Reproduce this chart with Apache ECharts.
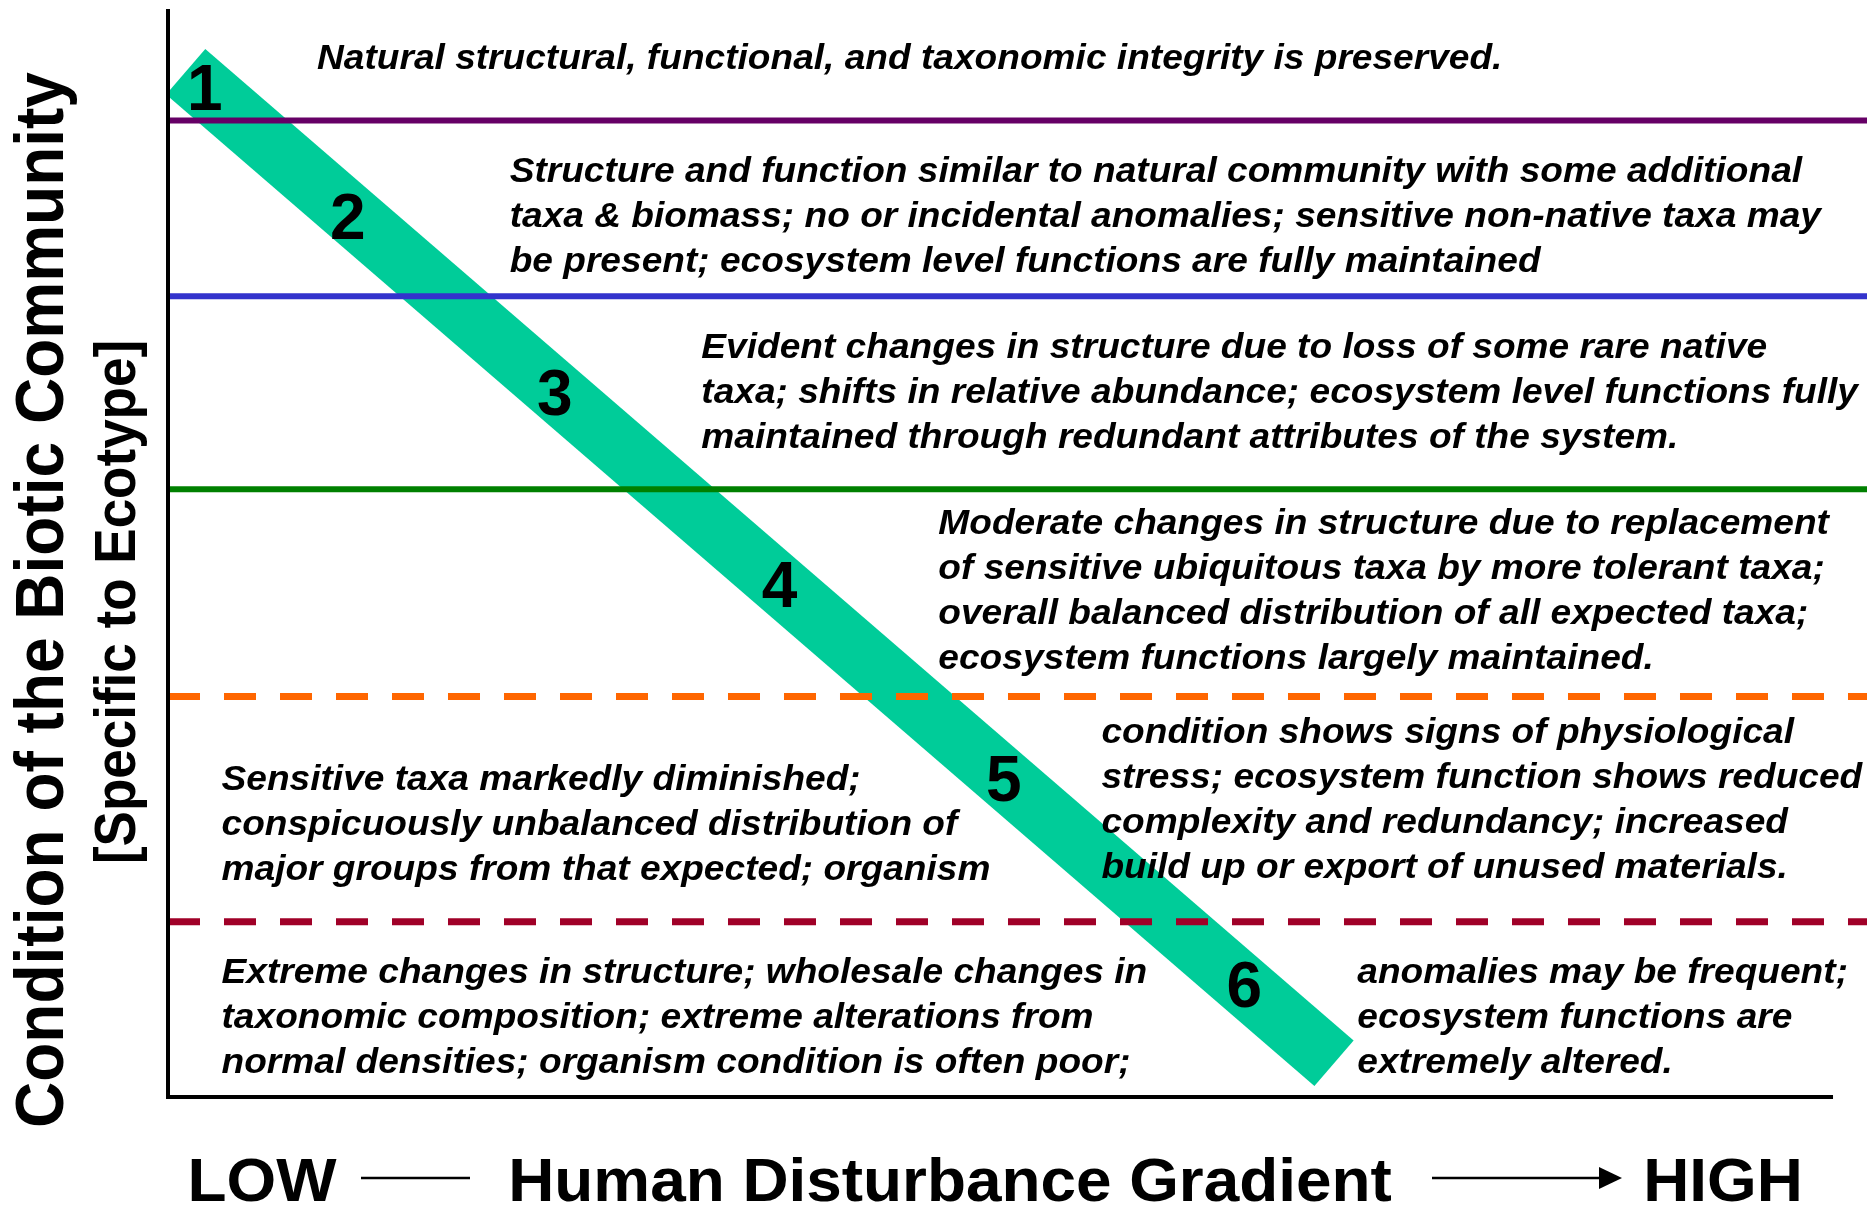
<!DOCTYPE html>
<html><head><meta charset="utf-8">
<script src="https://cdn.jsdelivr.net/npm/echarts@6/dist/echarts.min.js"></script>
<style>html,body{margin:0;padding:0;background:#fff}#c{width:1867px;height:1214px}</style>
</head><body><div id="c"></div>
<script>
// ---- data (x: human disturbance 0..100, y: condition 0..100) ----
const levelLabels = ['1', '2', '3', '4', '5', '6'];
const levelX = [2.17, 10.58, 22.77, 36.0, 49.2, 63.35];
const levelY = [92.3, 80.45, 64.35, 46.62, 28.8, 9.85];

const gradientX = [1.04, 68.63];
const gradientY = [94.24, 3.1];

const boundaryY = [89.75, 73.6, 55.85, 36.8, 16.1];

const blockX = [8.77, 20.11, 31.39, 45.34, 54.94, 3.15, 3.15, 70.0];
const blockY = [97.4, 87.1, 70.89, 54.67, 35.52, 31.13, 13.41, 13.41];
const blockLines = [
  ['Natural structural, functional, and taxonomic integrity is preserved.'],
  ['Structure and function similar to natural community with some additional',
   'taxa & biomass; no or incidental anomalies; sensitive non-native taxa may',
   'be present; ecosystem level functions are fully maintained'],
  ['Evident changes in structure due to loss of some rare native',
   'taxa; shifts in relative abundance; ecosystem level functions fully',
   'maintained through redundant attributes of the system.'],
  ['Moderate changes in structure due to replacement',
   'of sensitive ubiquitous taxa by more tolerant taxa;',
   'overall balanced distribution of all expected taxa;',
   'ecosystem functions largely maintained.'],
  ['condition shows signs of physiological',
   'stress; ecosystem function shows reduced',
   'complexity and redundancy; increased',
   'build up or export of unused materials.'],
  ['Sensitive taxa markedly diminished;',
   'conspicuously unbalanced distribution of',
   'major groups from that expected; organism'],
  ['Extreme changes in structure; wholesale changes in',
   'taxonomic composition; extreme alterations from',
   'normal densities; organism condition is often poor;'],
  ['anomalies may be frequent;',
   'ecosystem functions are',
   'extremely altered.']
];

const axisX = [0, 0, 98];
const axisY = [100, 0, 0];

const yTitle = 'Condition of the Biotic Community';
const ySubTitle = '[Specific to Ecotype]';
const xTitle = 'Human Disturbance Gradient';
const xLow = 'LOW';
const xHigh = 'HIGH';

// ---- styles ----
const boundaryStyles = [
  {color: '#660066', type: 'solid', width: 6},
  {color: '#3333CC', type: 'solid', width: 6},
  {color: '#008000', type: 'solid', width: 6},
  {color: '#FF6600', type: [32, 24], width: 7},
  {color: '#A00028', type: [32, 24], width: 7}
];
const FONT = '"Liberation Sans", Arial, Helvetica, sans-serif';

const chart = echarts.init(document.getElementById('c'), null, {renderer: 'canvas'});

const series = [];
series.push({
  type: 'line', name: 'gradient', silent: true, clip: false, z: 1,
  symbol: 'none', animation: false,
  data: gradientX.map((x, i) => [x, gradientY[i]]),
  lineStyle: {color: '#00CC99', width: 60, cap: 'butt'}
});
boundaryY.forEach((y, i) => {
  series.push({
    type: 'line', silent: true, clip: false, z: 3, symbol: 'none', animation: false,
    data: [[0, y], [100, y]],
    lineStyle: {color: boundaryStyles[i].color, width: boundaryStyles[i].width,
      type: boundaryStyles[i].type, cap: 'butt'}
  });
});
series.push({
  type: 'line', silent: true, clip: false, z: 4, symbol: 'none', animation: false,
  data: axisX.map((x, i) => [x, axisY[i]]),
  lineStyle: {color: '#000', width: 4, join: 'miter', cap: 'butt'}
});
series.push({
  type: 'custom', silent: true, clip: false, z: 6, animation: false,
  data: blockX.map((x, i) => [x, blockY[i], i]),
  renderItem: function (params, api) {
    const p = api.coord([api.value(0), api.value(1)]);
    const i = api.value(2);
    return {
      type: 'text', x: p[0], y: p[1], scaleX: 1.06, originX: 0, originY: 0,
      style: {
        text: blockLines[i].join('\n'), fill: '#000',
        fontFamily: FONT, fontSize: 35, fontWeight: 'bold', fontStyle: 'italic',
        align: 'left', verticalAlign: 'top', lineHeight: 45
      }
    };
  }
});
series.push({
  type: 'custom', silent: true, clip: false, z: 7, animation: false,
  data: levelX.map((x, i) => [x, levelY[i], i]),
  renderItem: function (params, api) {
    const p = api.coord([api.value(0), api.value(1)]);
    const i = api.value(2);
    return {
      type: 'text', x: p[0], y: p[1],
      style: {
        text: levelLabels[i], fill: '#000',
        fontFamily: FONT, fontSize: 64, fontWeight: 'bold',
        align: 'center', verticalAlign: 'middle'
      }
    };
  }
});

chart.setOption({
  backgroundColor: '#fff',
  animation: false,
  grid: {left: 168, right: 0, top: 9, bottom: 117, containLabel: false},
  xAxis: {type: 'value', min: 0, max: 100, show: true,
    axisLine: {show: false}, axisTick: {show: false}, axisLabel: {show: false}, splitLine: {show: false}},
  yAxis: {type: 'value', min: 0, max: 100, show: true,
    axisLine: {show: false}, axisTick: {show: false}, axisLabel: {show: false}, splitLine: {show: false}},
  series: series,
  graphic: [
    {type: 'text', x: 44, y: 600, rotation: Math.PI / 2, scaleY: 1.07,
      style: {text: yTitle, fontFamily: FONT, fontSize: 64, fontWeight: 'bold', fill: '#000',
        align: 'center', verticalAlign: 'middle'}},
    {type: 'text', x: 119, y: 602, rotation: Math.PI / 2, scaleY: 1.07,
      style: {text: ySubTitle, fontFamily: FONT, fontSize: 53, fontWeight: 'bold', fill: '#000',
        align: 'center', verticalAlign: 'middle'}},
    {type: 'text', x: 262, y: 1184, scaleX: 1.03,
      style: {text: xLow, fontFamily: FONT, fontSize: 62, fontWeight: 'bold', fill: '#000',
        align: 'center', verticalAlign: 'middle'}},
    {type: 'text', x: 950, y: 1184, scaleX: 1.03,
      style: {text: xTitle, fontFamily: FONT, fontSize: 62, fontWeight: 'bold', fill: '#000',
        align: 'center', verticalAlign: 'middle'}},
    {type: 'text', x: 1723, y: 1184, scaleX: 1.03,
      style: {text: xHigh, fontFamily: FONT, fontSize: 62, fontWeight: 'bold', fill: '#000',
        align: 'center', verticalAlign: 'middle'}},
    {type: 'line', shape: {x1: 361, y1: 1178, x2: 470, y2: 1178},
      style: {stroke: '#000', lineWidth: 2.5}},
    {type: 'line', shape: {x1: 1432, y1: 1178, x2: 1602, y2: 1178},
      style: {stroke: '#000', lineWidth: 2.5}},
    {type: 'polygon', shape: {points: [[1599, 1167], [1622, 1178], [1599, 1189]]},
      style: {fill: '#000'}}
  ]
});
</script>
</body></html>
